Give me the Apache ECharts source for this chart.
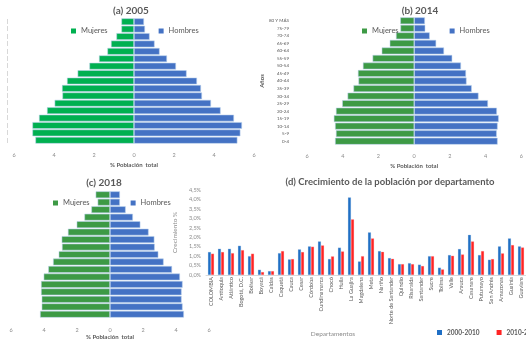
<!DOCTYPE html>
<html><head><meta charset="utf-8">
<script src="https://cdn.jsdelivr.net/npm/echarts@6/dist/echarts.min.js"></script>
<style>html,body{margin:0;padding:0;background:#fff}#c{width:526px;height:341px}</style>
</head><body><div id="c"></div>
<script>
// Age groups, bottom to top
const ageGroups = ['0-4','5-9','10-14','15-19','20-24','25-29','30-34','35-39','40-44','45-49','50-54','55-59','60-64','65-69','70-74','75-79','80 Y MÁS'];

const mujeres2005 = [4.93,5.08,5.08,4.75,4.35,3.97,3.58,3.6,3.35,2.82,2.23,1.75,1.33,1.15,0.88,0.63,0.63];
const hombres2005 = [5.17,5.32,5.4,5.0,4.33,3.85,3.4,3.35,3.15,2.63,2.1,1.65,1.28,1.03,0.78,0.55,0.5];

const mujeres2014 = [4.43,4.38,4.43,4.5,4.38,4.03,3.73,3.4,3.12,3.15,2.87,2.33,1.82,1.37,1.02,0.77,0.78];
const hombres2014 = [4.67,4.62,4.67,4.73,4.63,4.13,3.6,3.22,2.93,2.9,2.62,2.13,1.67,1.23,0.87,0.62,0.6];

const mujeres2018 = [4.24,4.14,4.14,4.18,4.18,4.02,3.74,3.45,3.11,2.91,2.93,2.55,2.02,1.55,1.13,0.75,0.87];
const hombres2018 = [4.48,4.4,4.34,4.34,4.4,4.24,3.76,3.25,2.93,2.71,2.69,2.34,1.84,1.39,0.95,0.6,0.6];

const pyramidTicks = [-6,-4,-2,0,2,4,6];

const departamentos = ['COLOMBIA','Antioquia','Atlántico','Bogotá, D.C.','Bolívar','Boyacá','Caldas','Caquetá','Cauca','Cesar','Córdoba','Cundinamarca','Chocó','Huila','La Guajira','Magdalena','Meta','Nariño','Norte de Santander','Quindío','Risaralda','Santander','Sucre','Tolima','Valle','Arauca','Casanare','Putumayo','San Andrés','Amazonas','Guainía','Guaviare'];
const crec2000_2010 = [1.22,1.39,1.39,1.55,1.0,0.28,0.21,1.16,0.83,1.36,1.52,1.78,0.85,1.45,4.11,0.72,2.26,1.27,0.9,0.58,0.63,0.55,1.0,0.39,1.06,1.38,2.13,1.06,0.81,1.52,1.94,1.52];
const crec2010_2018 = [1.13,1.22,1.16,1.32,1.13,0.16,0.21,1.27,0.85,1.22,1.5,1.57,0.99,1.25,2.95,1.0,1.94,1.23,0.86,0.58,0.58,0.48,1.0,0.3,1.02,1.09,1.78,1.27,0.85,1.15,1.59,1.46];
const crecTicks = [0,0.5,1,1.5,2,2.5,3,3.5,4,4.5];

const FONT = 'Lato';
const GRAY = '#595959';
const LGRAY = '#8c8c8c';
const BORDER = 'rgba(185,208,236,0.9)';
const neg = a => a.map(v => -v);

function pyrX(gridIndex, margin, nameGap) {
  return {
    type: 'value', gridIndex, min: pyramidTicks[0], max: pyramidTicks[pyramidTicks.length-1], interval: 2,
    axisLine: {show:false}, axisTick: {show:false}, splitLine: {show:false},
    axisLabel: {formatter: v => Math.abs(v), fontSize: 5.5, color: LGRAY, margin, fontFamily: FONT},
    name: '% Población  total', nameLocation: 'middle', nameGap,
    nameTextStyle: {fontSize: 6, color: GRAY, fontWeight: 'bold', fontFamily: FONT}
  };
}
function pyrSeries(name, idx, data, color) {
  return {
    type: 'bar', name, xAxisIndex: idx, yAxisIndex: idx, stack: 'p' + idx, data,
    barCategoryGap: '9%',
    itemStyle: {color, borderColor: BORDER, borderWidth: 0.6},
    silent: true, animation: false
  };
}
function legendFor(left, top, gap, green) {
  return {
    left, top, itemWidth: 5, itemHeight: 5, itemGap: gap, icon: 'rect', padding: 0, selectedMode: false,
    itemStyle: {borderWidth: 0},
    data: [{name:'Mujeres', itemStyle:{color: green, borderWidth: 0}}, {name:'Hombres', itemStyle:{color:'#4472c4', borderWidth: 0}}],
    textStyle: {fontSize: 7.5, color: GRAY, fontFamily: FONT}
  };
}
const titleStyle = {fontSize: 10, fontWeight: 'bold', color: GRAY, fontFamily: FONT};

const option = {
  animation: false,
  backgroundColor: '#fff',
  title: [
    {text: '(a) 2005', left: 131, top: 6, textAlign: 'center', padding: 0, textStyle: titleStyle},
    {text: '(b) 2014', left: 420, top: 6, textAlign: 'center', padding: 0, textStyle: titleStyle},
    {text: '(c) 2018', left: 104, top: 178, textAlign: 'center', padding: 0, textStyle: titleStyle},
    {text: '(d) Crecimiento de la población por departamento', left: 390, top: 177, textAlign: 'center', padding: 0,
      textStyle: {fontSize: 9.5, fontWeight: 'bold', color: GRAY, fontFamily: FONT}},
    {text: 'Departamentos', left: 333, top: 330, textAlign: 'center', padding: 0,
      textStyle: {fontSize: 6.5, fontWeight: 'normal', color: LGRAY, fontFamily: FONT}}
  ],
  legend: [
    legendFor(71, 27, 51, '#00b050'),
    legendFor(362, 27, 51, '#3d9a45'),
    legendFor(53, 199, 41, '#3d9a45'),
    {left: 437, top: 329, width: 200, itemWidth: 5, itemHeight: 5, itemGap: 17, icon: 'rect', padding: 0, selectedMode: false,
      itemStyle: {borderWidth: 0},
      data: [{name:'2000-2010', itemStyle:{borderWidth:0}}, {name:'2010-2018', itemStyle:{borderWidth:0}}],
      textStyle: {fontSize: 6.5, color: GRAY, fontWeight: 'bold', fontFamily: FONT}}
  ],
  grid: [
    {left: 14, top: 18, width: 240, height: 126},
    {left: 307, top: 17, width: 240, height: 128},
    {left: 11, top: 191, width: 198, height: 128},
    {left: 206, top: 190, width: 320, height: 85}
  ],
  xAxis: [
    pyrX(0, 8, 18),
    pyrX(1, 8, 18),
    pyrX(2, 9, 16),
    {type: 'category', gridIndex: 3, data: departamentos,
      axisLine: {lineStyle: {color: '#d9d9d9'}}, axisTick: {show: false},
      axisLabel: {rotate: 90, interval: 0, fontSize: 5.5, color: GRAY, margin: 2, fontFamily: FONT}}
  ],
  yAxis: [
    {type: 'category', gridIndex: 0, data: ageGroups, axisLine: {show:false}, axisTick: {show:false},
      axisLabel: {formatter: () => '|', fontSize: 4.5, color: '#9a9a9a', margin: 6}},
    {type: 'category', gridIndex: 1, data: ageGroups, axisLine: {show:false}, axisTick: {show:false},
      axisLabel: {fontSize: 4.5, color: GRAY, margin: 18, fontFamily: FONT},
      name: 'Años', nameLocation: 'middle', nameGap: 33, nameRotate: 90,
      nameTextStyle: {fontSize: 6, color: GRAY, fontWeight: 'bold', fontFamily: FONT}},
    {type: 'category', gridIndex: 2, data: ageGroups, axisLine: {show:false}, axisTick: {show:false},
      axisLabel: {show: false}},
    {type: 'value', gridIndex: 3, min: crecTicks[0], max: crecTicks[crecTicks.length-1], interval: 0.5,
      splitLine: {show: false}, axisLine: {show: false}, axisTick: {show: false},
      axisLabel: {formatter: v => v.toFixed(1).replace('.', ',') + '%', fontSize: 5.5, color: LGRAY, margin: 5, fontFamily: FONT},
      name: 'Crecimiento %', nameLocation: 'middle', nameGap: 26, nameRotate: 90,
      nameTextStyle: {fontSize: 6.5, color: LGRAY, fontFamily: FONT}}
  ],
  series: [
    pyrSeries('Mujeres', 0, neg(mujeres2005), '#00b050'),
    pyrSeries('Hombres', 0, hombres2005, '#4472c4'),
    pyrSeries('Mujeres', 1, neg(mujeres2014), '#3d9a45'),
    pyrSeries('Hombres', 1, hombres2014, '#4472c4'),
    pyrSeries('Mujeres', 2, neg(mujeres2018), '#3d9a45'),
    pyrSeries('Hombres', 2, hombres2018, '#4472c4'),
    {type: 'bar', name: '2000-2010', xAxisIndex: 3, yAxisIndex: 3, data: crec2000_2010,
      barGap: '0%', barCategoryGap: '38%', itemStyle: {color: '#1f6fc5', borderColor: 'rgba(180,205,235,0.7)', borderWidth: 0.4}},
    {type: 'bar', name: '2010-2018', xAxisIndex: 3, yAxisIndex: 3, data: crec2010_2018,
      barGap: '0%', barCategoryGap: '38%', itemStyle: {color: '#ff2424', borderColor: 'rgba(250,190,190,0.7)', borderWidth: 0.4}}
  ]
};
const chart = echarts.init(document.getElementById('c'), null, {renderer: 'canvas'});
chart.setOption(option);
</script>
</body></html>
